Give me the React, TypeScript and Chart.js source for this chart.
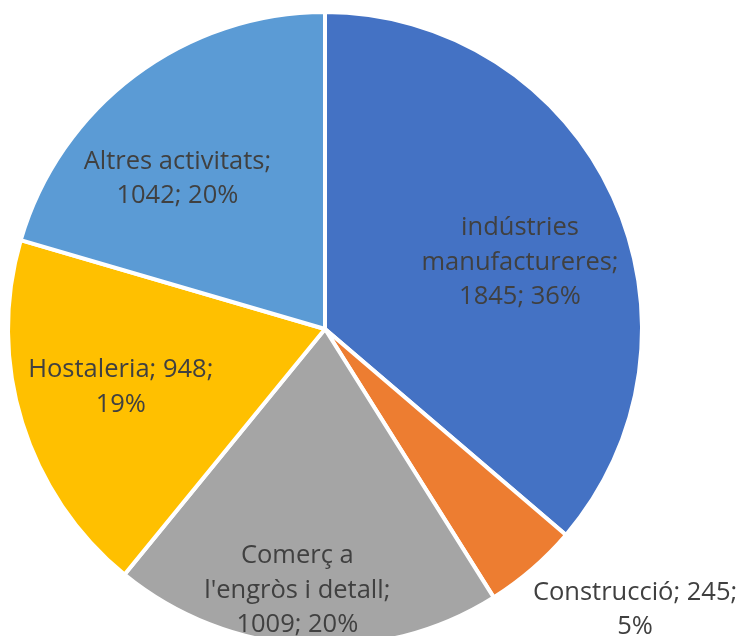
import React, { useEffect, useRef } from "react";
import { Chart, registerables } from "chart.js";

Chart.register(...registerables);

const categories = [
  "indústries manufactureres",
  "Construcció",
  "Comerç a l'engròs i detall",
  "Hostaleria",
  "Altres activitats",
];
const values = [1845, 245, 1009, 948, 1042];
const colors = ["#4472C4", "#ED7D31", "#A5A5A5", "#FFC000", "#5B9BD5"];

// label layout (style): angle offset in degrees from slice middle, radial fraction
const labelAngleOffset = [5.9, -7, 2.5, 1.3, -7.6];
const labelRadius = [0.65, 1.32, 0.83, 0.67, 0.665];

function labelLines(i: number, pct: number): string[] {
  const v = values[i];
  switch (i) {
    case 0:
      return ["indústries", "manufactureres;", `${v}; ${pct}%`];
    case 1:
      return [`Construcció; ${v};`, `${pct}%`];
    case 2:
      return ["Comerç a", "l'engròs i detall;", `${v}; ${pct}%`];
    case 3:
      return [`Hostaleria; ${v};`, `${pct}%`];
    default:
      return [`${categories[i]};`, `${v}; ${pct}%`];
  }
}

const labelPlugin = {
  id: "sliceLabels",
  afterDatasetsDraw(chart: any) {
    const ctx = chart.ctx;
    const meta = chart.getDatasetMeta(0);
    const total = values.reduce((a, b) => a + b, 0);
    ctx.save();
    ctx.font = "25.5px 'Open Sans'";
    ctx.fillStyle = "#404040";
    ctx.textAlign = "center";
    ctx.textBaseline = "middle";
    const lineH = 34.5;
    meta.data.forEach((arc: any, i: number) => {
      const p = arc.getProps(["x", "y", "startAngle", "endAngle", "outerRadius"], true);
      const mid = (p.startAngle + p.endAngle) / 2 + (labelAngleOffset[i] * Math.PI) / 180;
      const r = p.outerRadius * labelRadius[i];
      const cx = p.x + Math.cos(mid) * r;
      const cy = p.y + Math.sin(mid) * r;
      const pct = Math.round((values[i] / total) * 100);
      const lines = labelLines(i, pct);
      const y0 = cy - ((lines.length - 1) * lineH) / 2;
      lines.forEach((t, k) => ctx.fillText(t, cx, y0 + k * lineH));
    });
    ctx.restore();
  },
};

export default function App() {
  const ref = useRef<HTMLCanvasElement>(null);
  useEffect(() => {
    if (!ref.current) return;
    const chart = new Chart(ref.current, {
      type: "pie",
      data: {
        labels: categories,
        datasets: [
          {
            data: values,
            backgroundColor: colors,
            borderColor: "#ffffff",
            borderWidth: 4,
            radius: 317,
          } as any,
        ],
      },
      options: {
        animation: false,
        responsive: false,
        maintainAspectRatio: false,
        layout: { padding: { left: 0, right: 89, top: 0, bottom: 2 } },
        plugins: {
          legend: { display: false },
          tooltip: { enabled: false },
        },
      },
      plugins: [labelPlugin],
    });
    return () => chart.destroy();
  }, []);
  return (
    <div
      style={{
        position: "absolute",
        left: 0,
        top: 0,
        width: 739,
        height: 636,
        overflow: "hidden",
        background: "#ffffff",
      }}
    >
      <canvas ref={ref} width={739} height={660} style={{ width: 739, height: 660, display: "block" }} />
    </div>
  );
}
